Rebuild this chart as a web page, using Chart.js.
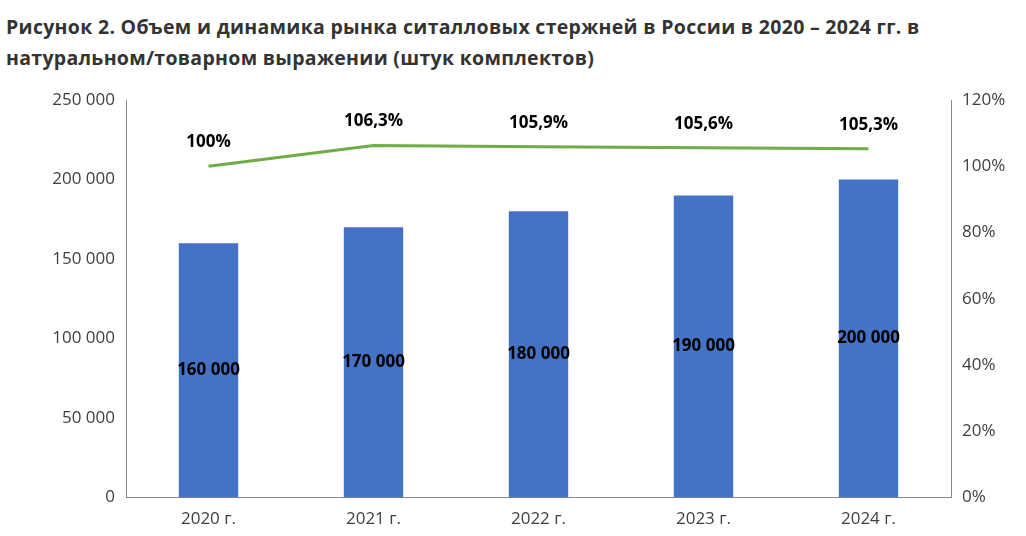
<!DOCTYPE html>
<html><head><meta charset="utf-8">
<script src="https://cdn.jsdelivr.net/npm/chart.js@4/dist/chart.umd.min.js"></script>
<style>body{margin:0;background:#fff;font-family:"Open Sans",sans-serif}
#t{position:absolute;left:6px;top:11px;font-weight:bold;font-size:19.5px;color:#333;line-height:31px;letter-spacing:0.3px}
#w{position:absolute;left:0;top:80px;width:1026px;height:456px}</style></head>
<body><div id="t">Рисунок 2. Объем и динамика рынка ситалловых стержней в России в 2020 – 2024 гг. в<br>натуральном/товарном выражении (штук комплектов)</div>
<div id="w"><canvas id="c"></canvas></div>
<script>
const categories=["2020 г.","2021 г.","2022 г.","2023 г.","2024 г."];
const volume=[160000,170000,180000,190000,200000];
const growth=[100,106.3,105.9,105.6,105.3];
const fmt=v=>v.toString().replace(/\B(?=(\d{3})+(?!\d))/g," ");
const labels={id:"lbl",afterDatasetsDraw(ch){const c=ch.ctx;c.save();c.font="bold 17px 'Open Sans'";c.fillStyle="#000";c.textAlign="center";c.textBaseline="middle";
ch.getDatasetMeta(1).data.forEach((b,i)=>{c.fillText(fmt(volume[i]),b.x,(b.y+b.base)/2);});
ch.getDatasetMeta(0).data.forEach((p,i)=>{c.fillText(String(growth[i]).replace(".",",")+"%",p.x,p.y-24);});c.restore();}};
const tf={size:17,family:"Open Sans"};
new Chart(document.getElementById("c"),{data:{labels:categories,datasets:[
{type:"line",data:growth,yAxisID:"y1",borderColor:"#70AD47",borderWidth:3,pointRadius:0,order:0},
{type:"bar",data:volume,yAxisID:"y",backgroundColor:"#4472C4",barPercentage:0.36,categoryPercentage:1,order:1}]},
options:{responsive:true,maintainAspectRatio:false,animation:false,layout:{padding:{left:0,right:6,top:20,bottom:4}},
plugins:{legend:{display:false},tooltip:{enabled:false}},
scales:{x:{grid:{display:false},border:{color:"#888"},ticks:{color:"#404040",font:tf}},
y:{min:0,max:250000,ticks:{stepSize:50000,color:"#404040",font:tf,callback:v=>fmt(v)},grid:{display:false},border:{color:"#888"},afterFit:s=>{s.width=126}},
y1:{position:"right",min:0,max:120,ticks:{stepSize:20,color:"#404040",font:tf,callback:v=>v+"%"},grid:{display:false},border:{color:"#888"},afterFit:s=>{s.width=69}}}},
plugins:[labels]});
</script></body></html>
